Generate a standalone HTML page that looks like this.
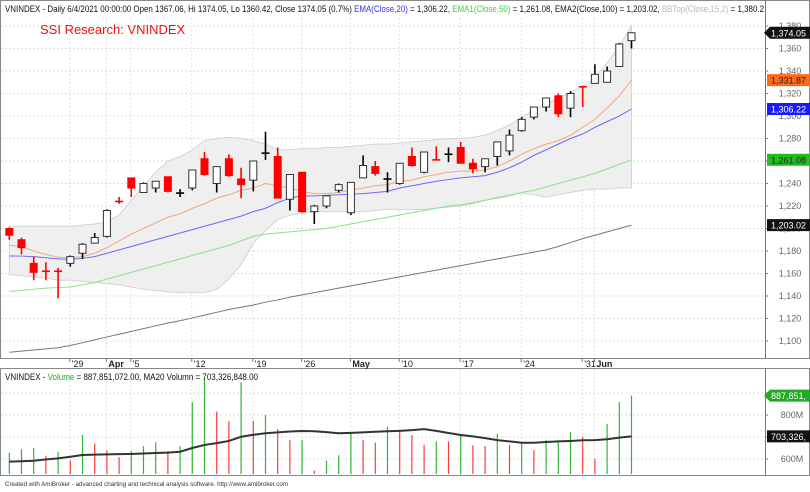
<!DOCTYPE html>
<html><head><meta charset="utf-8"><style>
body{margin:0;background:#fff;font-family:"Liberation Sans",sans-serif;}
svg{display:block}
</style></head><body>
<svg id="c" width="810" height="492" viewBox="0 0 810 492" font-family="Liberation Sans, sans-serif"></svg>
<script>
const categories=["03-22","03-23","03-24","03-25","03-26","03-29","03-30","03-31","04-01","04-02","04-05","04-06","04-07","04-08","04-09","04-12","04-13","04-14","04-15","04-16","04-19","04-20","04-22","04-23","04-26","04-27","04-28","04-29","05-04","05-05","05-06","05-07","05-10","05-11","05-12","05-13","05-14","05-17","05-18","05-19","05-20","05-21","05-24","05-25","05-26","05-27","05-28","05-31","06-01","06-02","06-03","06-04"];
const openV=[1200,1190,1169,1163,1163,1169,1178,1187,1193,1225,1245,1232,1236,1246,1231.5,1236,1262,1240,1262,1244,1243,1267,1264,1226,1250,1215,1220,1234,1214,1245,1255,1244,1240,1264,1250,1261.5,1266,1272,1258,1255,1264,1269,1287,1299,1308,1318,1307,1327,1329,1330,1344,1367];
const highV=[1201,1192,1175,1170,1165,1176,1187,1196,1217,1228,1245,1241,1242,1246,1235,1252,1268,1255,1266,1254,1260,1286,1272,1248,1250,1221,1229,1240,1241,1265,1260,1250,1258,1272,1268,1273,1272,1277,1262,1262,1277,1288,1299,1308,1316,1320,1322,1327,1346,1344,1365,1374];
const lowV=[1190,1177,1154,1154,1138,1166,1173,1187,1192,1222,1228,1232,1232,1232,1228,1234,1247,1232,1246,1227,1233,1261,1227,1216,1214,1204,1218,1232,1212,1245,1247,1232,1239,1255,1249,1261,1259,1258,1249,1250,1256,1265,1286,1297,1304,1299,1299,1308,1329,1330,1344,1360];
const closeV=[1194,1183,1161,1162,1162,1175,1186,1192,1216,1224,1236,1240,1242,1233,1231.5,1252,1248,1255,1247,1239,1260,1267,1227,1248,1215,1220,1229,1239,1241,1256,1249,1244,1258,1256,1268,1261,1266,1258,1253,1262,1277,1283,1297,1308,1316,1302,1320,1326,1337,1340,1364,1374];
const ema10=[1185,1184,1180,1177,1174.5,1174,1175,1178,1183,1189,1195,1200,1205,1210,1213,1218,1222,1227,1230,1234,1236,1240,1238,1236,1233,1231,1231,1232,1234,1236,1238,1239,1242,1243,1246,1248,1250,1251,1251,1252,1255,1260,1266,1271,1275,1278,1283,1290,1297,1307,1318,1331.87];
const ema20=[1175.6,1175.5,1175,1174,1173,1172.5,1173.5,1175,1178,1181,1184,1187,1190,1193,1196,1199,1202,1205,1208,1211,1215,1218,1223,1227,1229,1229,1229.5,1230,1230.5,1231,1232,1233,1236,1238,1240,1242,1243.5,1245,1246,1247,1250,1254,1259,1265,1270,1275,1280,1284,1290,1295,1300,1306.22];
const ema50=[1144,1145,1146,1147,1147.5,1148,1150,1152,1155,1158,1161,1164,1167,1170,1173,1176,1179,1182,1185,1189,1193,1195,1196,1197,1198,1199,1200,1202,1204,1206,1208,1210,1212,1214,1216,1218,1220,1221,1223,1225,1227,1229,1232,1234,1237,1240,1243,1246,1249,1253,1257,1261.08];
const ema100=[1090,1091,1092,1093,1094,1096,1098.5,1101,1103.6,1106,1108.5,1111,1113.5,1116,1118,1120.5,1123,1125.5,1128,1130,1132,1134.5,1136.5,1139,1141,1143,1145,1147,1149,1151,1153,1155,1157,1159,1161,1163,1165,1167,1169,1171,1173,1175,1177,1179,1181,1184,1187.5,1191,1194,1197,1200,1203.02];
const bbUpper=[1202,1202,1202,1202,1202,1202,1203,1204,1206,1212,1225,1238,1250,1260,1264,1270,1278,1280,1281,1280,1278,1275,1270,1270,1271,1271,1272,1272,1273,1274,1275,1275,1276,1277,1278,1279,1280,1280,1281,1283,1287,1292,1299,1305,1311,1316,1321,1326,1334,1347,1362,1380.2];
const bbLower=[1159,1158,1157,1156,1154,1154,1153,1152,1151,1150,1148,1146,1145,1143.6,1143,1143,1143,1146,1155,1168,1187,1198,1208,1212,1214,1215,1215,1215,1215,1215,1216,1217,1217,1217,1217,1218,1219,1220,1222,1225,1228,1230,1231.6,1230,1228,1230,1232,1234,1235,1235,1236,1236];
const volumeM=[629,645,650,615,632,594,709,670,638,608,636,659,677,636,659,858,967,815,773,949,773,800,736,686,686,547,592,617,720,686,674,747,729,709,665,680,680,708,662,659,715,664,671,641,686,682,723,701,601,759,859,888];
const volUp=[1,1,1,0,1,0,1,0,0,0,1,1,1,0,1,1,1,0,0,1,0,1,0,0,1,0,1,1,1,0,0,1,0,0,0,1,0,1,0,0,1,0,1,0,1,1,1,0,0,1,1,1];
const volMA20=[588,590,592,598,603,610,618,620,621,622,623,625,627,629,633,650,664,672,682,701,710,717,721,725,727,726,722,717,719,721,724,726,728,731,736,728,718,709,703,695,686,680,674,674,677,680,682,685,686,690,697,703];
const priceTicks=[1100,1120,1140,1160,1180,1200,1220,1240,1260,1280,1300,1320,1340,1360,1380];
const volTicks=[600,700,800,900];
const dateTickIdx=[5,8,10,15,20,24,28,32,37,42,47,48];
const dateTickLabels=["'29","Apr","'5","'12","'19","'26","May","'10","'17","'24","'31","Jun"];
const dateTickBold=[0,1,0,0,0,0,1,0,0,0,0,1];

const NS="http://www.w3.org/2000/svg";
const svg=document.getElementById('c');
function mk(t,a,p){const e=document.createElementNS(NS,t);for(const k in a)e.setAttribute(k,a[k]);(p||svg).appendChild(e);return e;}
const X=i=>9.3+12.2*i;
const Y=v=>26+(1380-v)*1.125;
const VY=v=>459-(v-600)*0.22;
const VBASE=474;

let f=mk('rect',{x:0.5,y:0.5,width:809,height:358,fill:'none',stroke:'#888'});

let f2=mk('rect',{x:0.5,y:368.5,width:809,height:107,fill:'none',stroke:'#888'});

mk('line',{x1:765.5,y1:0,x2:765.5,y2:358,stroke:'#777'});
mk('line',{x1:765.5,y1:368,x2:765.5,y2:476,stroke:'#777'});

priceTicks.forEach(v=>{
  const g=mk('line',{x1:1,x2:765,y1:Y(v),y2:Y(v),stroke:'#ddd','stroke-dasharray':'2,2'});
  
  mk('line',{x1:765,x2:768,y1:Y(v),y2:Y(v),stroke:'#777'});
  const t=mk('text',{x:790,y:Y(v)+3,'font-size':9,fill:'#666','text-anchor':'middle'});
  t.textContent=v.toLocaleString('en-US');
  
});
volTicks.forEach(v=>{
  const g=mk('line',{x1:1,x2:765,y1:VY(v),y2:VY(v),stroke:'#ddd','stroke-dasharray':'2,2'});
  
  mk('line',{x1:765,x2:768,y1:VY(v),y2:VY(v),stroke:'#777'});
  const t=mk('text',{x:792,y:VY(v)+3,'font-size':9,fill:'#666','text-anchor':'middle'});
  t.textContent=v+'M';
  
});
dateTickIdx.forEach((i,k)=>{
  const x=X(i)-0.5;
  mk('line',{x1:x,x2:x,y1:18,y2:358,stroke:'#e2e2e2','stroke-dasharray':'2,2'});
  mk('line',{x1:x,x2:x,y1:369,y2:475,stroke:'#e2e2e2','stroke-dasharray':'2,2'});
  mk('line',{x1:x,x2:x,y1:358,y2:362,stroke:'#777'});
  const t=mk('text',{x:x+2,y:367,'font-size':9,fill:'#222','font-weight':dateTickBold[k]?'bold':'normal'});
  t.textContent=dateTickLabels[k];
  
});

let d='';
bbUpper.forEach((v,i)=>{d+=(i?'L':'M')+X(i)+','+Y(v);});
for(let i=bbLower.length-1;i>=0;i--)d+='L'+X(i)+','+Y(bbLower[i]);
const bb=mk('path',{d:d+'Z',fill:'#efefef',stroke:'#d4d4d4','stroke-width':1});


function line(arr,col,name,yf,w){
  const p=mk('path',{d:arr.map((v,i)=>(i?'L':'M')+X(i)+','+yf(v)).join(''),fill:'none',stroke:col,'stroke-width':w||1});
  
}
line(ema100,'#777','ema100-line',Y);
line(ema50,'#8fe08f','ema50-line',Y);
line(ema20,'#6a6af5','ema20-line',Y);
line(ema10,'#f7a77c','ema10-line',Y);

openV.forEach((o,i)=>{
  const c=closeV[i],x=X(i),red=c<o;
  const col=red?'#ff0000':'#000';
  const g=mk('g',{});
  
  mk('line',{x1:x,x2:x,y1:Y(highV[i]),y2:Y(lowV[i]),stroke:col,'stroke-width':1.6},g);
  const top=Y(Math.max(o,c)),h=Math.abs(Y(o)-Y(c));
  if(h<1.5){mk('line',{x1:x-4,x2:x+4,y1:Y(c),y2:Y(c),stroke:col,'stroke-width':1.6},g);}
  else mk('rect',{x:x-3.5,y:top,width:7,height:h,fill:red?'#ff0000':'#fff',stroke:red?'#ff0000':'#333','stroke-width':1},g);
});

volumeM.forEach((v,i)=>{
  const b=mk('line',{x1:X(i),x2:X(i),y1:VY(v),y2:VBASE,stroke:volUp[i]?'#33b533':'#ff3a3a','stroke-width':1.2});
  
});
line(volMA20,'#333','volume-ma20-line',VY,2);

function tag(y,txt,bg,fg,name,arrow){
  const g=mk('g',{});
  if(arrow)mk('path',{d:`M764,${y} L770,${y-6} L810,${y-6} L810,${y+6} L770,${y+6}Z`,fill:bg},g);
  else mk('rect',{x:767,y:y-6,width:43,height:12,fill:bg},g);
  const t=mk('text',{x:771,y:y+3.5,'font-size':9,fill:fg},g);t.textContent=txt;
}
tag(Y(closeV[51]),'1,374.05','#111','#fff','last-close-tag',true);
tag(Y(ema10[51]),'1,331.87','#ff6a1a','#222','ema10-value-tag');
tag(Y(ema20[51]),'1,306.22','#1a1aff','#fff','ema20-value-tag');
tag(Y(ema50[51]),'1,261.08','#22bb22','#222','ema50-value-tag');
tag(Y(ema100[51]),'1,203.02','#111','#fff','ema100-value-tag');
tag(VY(volumeM[51]),'887,851,','#22aa22','#fff','volume-value-tag',true);
tag(VY(volMA20[51]),'703,326,','#111','#fff','volume-ma-tag');

function txt(x,y,s,size,col,name,html,len){const t=mk('text',{x,y,'font-size':size,fill:col});if(len){t.setAttribute('textLength',len);t.setAttribute('lengthAdjust','spacingAndGlyphs');}if(html)t.innerHTML=html;else t.textContent=s;return t;}
txt(5,12,'',9.3,'#111','price-title',
 'VNINDEX - Daily 6/4/2021 00:00:00 Open 1367.06, Hi 1374.05, Lo 1360.42, Close 1374.05 (0.7%) <tspan fill="#3333ee">EMA(Close,20)</tspan> = 1,306.22, <tspan fill="#44cc44">EMA1(Close,50)</tspan> = 1,261.08, EMA2(Close,100) = 1,203.02, <tspan fill="#bbb">BBTop(Close,15,2)</tspan> = 1,380.2',759);
txt(40,34,'SSI Research: VNINDEX',13,'#ee1111','watermark-title');
txt(5,380,'',9.3,'#111','volume-title','VNINDEX - <tspan fill="#22aa22">Volume</tspan> = 887,851,072.00, MA20 Volumn = 703,326,848.00',253);
txt(5,486,'Created with AmiBroker - advanced charting and technical analysis software. http://www.amibroker.com',6,'#333','footer-credit',null,283);
</script>
</body></html>
